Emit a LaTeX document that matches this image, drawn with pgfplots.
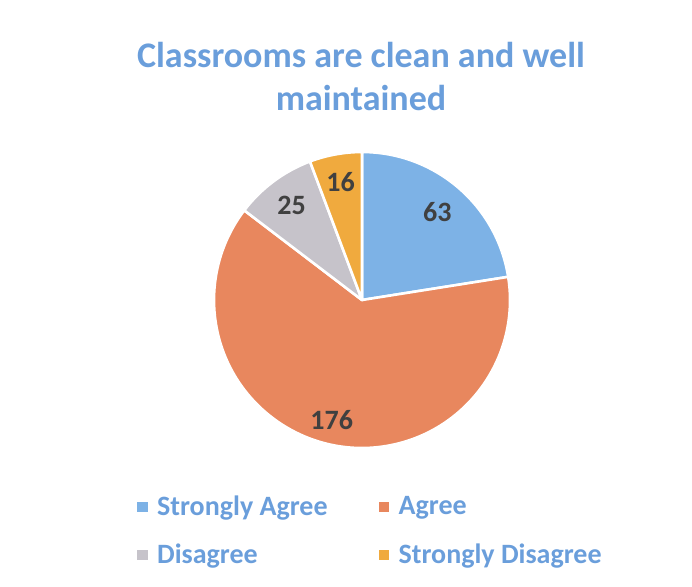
\documentclass[border=0pt]{standalone}
\usepackage{pgfplots}
\pgfplotsset{compat=1.18}
\usepackage{fontspec}
\setmainfont{Carlito}
\definecolor{pieblue}{HTML}{7DB2E6}
\definecolor{pieorange}{HTML}{E8875E}
\definecolor{piegray}{HTML}{C6C3CA}
\definecolor{piegold}{HTML}{F0AA3E}
\definecolor{titleblue}{HTML}{6A9EDB}
\definecolor{lbl}{HTML}{404040}
% data values
\def\vSA{63}\def\vA{176}\def\vD{25}\def\vSD{16}
\begin{document}
\begin{tikzpicture}
\pgfmathsetmacro\tot{\vSA+\vA+\vD+\vSD}
\pgfmathsetmacro\aO{90}
\pgfmathsetmacro\aI{\aO-360*(\vSA/\tot)}
\pgfmathsetmacro\aII{\aI-360*(\vA/\tot)}
\pgfmathsetmacro\aIII{\aII-360*(\vD/\tot)}
\pgfmathsetmacro\aIV{\aIII-360*(\vSD/\tot)}
\pgfmathsetmacro\mI{(\aO+\aI)/2}
\pgfmathsetmacro\mII{(\aI+\aII)/2}
\pgfmathsetmacro\mIII{(\aII+\aIII)/2}
\pgfmathsetmacro\mIV{(\aIII+\aIV)/2}
\def\R{74pt}
\begin{axis}[
  x=0.5pt, y=0.5pt, xmin=0, xmax=692, ymin=0, ymax=586,
  at={(0,0)}, anchor=south west,
  hide axis, clip=false,
  legend image code/.code={\fill[#1] (0pt,-2.6pt) rectangle (5.2pt,2.6pt); \path (8pt,0pt);},
  legend cell align=left,
  legend style={at={(0.189,0.168)}, anchor=north west, draw=none, fill=none,
    font=\bfseries\fontsize{14}{16.5}\selectfont, text=titleblue,
    row sep=8.5pt,
    /tikz/every even column/.append style={column sep=23.5pt}},
  legend columns=2,
]
\path (axis cs:0,0) rectangle (axis cs:692,586);
\addlegendimage{fill=pieblue, draw=none}\addlegendentry{Strongly Agree}
\addlegendimage{fill=pieorange, draw=none}\addlegendentry{Agree}
\addlegendimage{fill=piegray, draw=none}\addlegendentry{Disagree}
\addlegendimage{fill=piegold, draw=none}\addlegendentry{Strongly Disagree}
\filldraw[fill=pieblue, draw=white, line width=1.3pt, line join=round] (axis cs:362,286) -- ++(\aO:\R) arc[start angle=\aO, end angle=\aI, radius=\R] -- cycle;
\filldraw[fill=pieorange, draw=white, line width=1.3pt, line join=round] (axis cs:362,286) -- ++(\aI:\R) arc[start angle=\aI, end angle=\aII, radius=\R] -- cycle;
\filldraw[fill=piegray, draw=white, line width=1.3pt, line join=round] (axis cs:362,286) -- ++(\aII:\R) arc[start angle=\aII, end angle=\aIII, radius=\R] -- cycle;
\filldraw[fill=piegold, draw=white, line width=1.3pt, line join=round] (axis cs:362,286) -- ++(\aIII:\R) arc[start angle=\aIII, end angle=\aIV, radius=\R] -- cycle;
\node[font=\bfseries\fontsize{14}{16}\selectfont, text=lbl] at ([shift={(\mI:58pt)}]axis cs:362,286) {\vSA};
\node[font=\bfseries\fontsize{14}{16}\selectfont, text=lbl] at ([shift={(\mII:62pt)}]axis cs:362,286) {\vA};
\node[font=\bfseries\fontsize{14}{16}\selectfont, text=lbl] at ([shift={(\mIII:59pt)}]axis cs:362,286) {\vD};
\node[font=\bfseries\fontsize{14}{16}\selectfont, text=lbl] at ([shift={(\mIV:60pt)}]axis cs:362,286) {\vSD};
\node[align=center, font=\bfseries\fontsize{18}{21.5}\selectfont, text=titleblue] at (axis cs:361,510) {Classrooms are clean and well\\maintained};
\end{axis}
\end{tikzpicture}
\end{document}
